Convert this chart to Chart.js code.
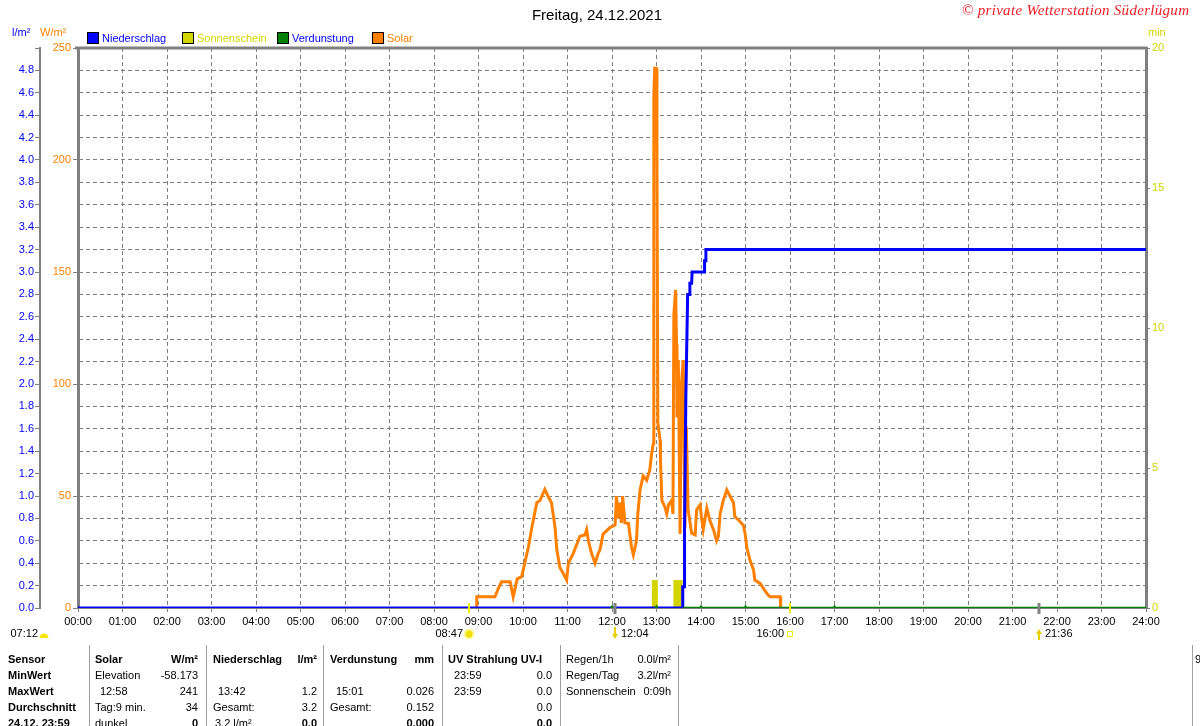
<!DOCTYPE html>
<html>
<head>
<meta charset="utf-8">
<script src="https://cdn.jsdelivr.net/npm/chart.js@4.4.1/dist/chart.umd.min.js"></script>
<style>
html, body { margin: 0; padding: 0; background: #fff; overflow: hidden; }
#wrap { position: relative; width: 1200px; height: 726px; font-family: 'Liberation Sans', Arial, sans-serif; font-size: 11px; color: #000; }
canvas { position: absolute; left: 0; top: 0; }
.t { position: absolute; white-space: nowrap; line-height: 14px; }
.b { font-weight: bold; }
.sep { position: absolute; top: 645px; height: 81px; width: 1px; background: #a0a0a0; }
#title { position: absolute; left: 0; width: 1194px; top: 6px; text-align: center; font-size: 15px; }
#copy { position: absolute; left: 962px; top: 2px; font-family: 'Liberation Serif', serif; font-style: italic; font-size: 15px; letter-spacing: 0.3px; color: #ee1c24; white-space: nowrap; }
</style>
</head>
<body>
<div id="wrap">
  <canvas id="chart" width="1200" height="726"></canvas>
  <div id="title">Freitag, 24.12.2021</div>
  <div id="copy">© private Wetterstation Süderlügum</div>
</div>
<script>
// Niederschlag (cumulative l/m²)
const rainTime  = [0, 13.59, 13.59, 13.62, 13.63, 13.66, 13.70, 13.74, 13.75, 13.79, 13.80, 14.07, 14.08, 14.10, 14.11, 24];
const rainValue = [0, 0, 0.19, 0.19, 0.7, 1.9, 2.8, 2.8, 2.9, 2.9, 3.0, 3.0, 3.1, 3.1, 3.2, 3.2];

// Solar (W/m²)
const solarTime = [8.95, 8.96, 9.37, 9.45, 9.52, 9.71, 9.78, 9.87, 9.97, 10.05, 10.12, 10.2, 10.31, 10.38, 10.49,
  10.56, 10.64, 10.72, 10.76, 10.83, 10.9, 10.98, 11.02, 11.13, 11.24, 11.28, 11.39, 11.43, 11.47, 11.54, 11.62,
  11.69, 11.73, 11.8, 11.96, 12.07, 12.1, 12.14, 12.18, 12.21, 12.24, 12.29, 12.37, 12.44, 12.48, 12.55, 12.58,
  12.63, 12.7, 12.78, 12.85, 12.89, 12.93, 12.94, 12.96, 12.99, 13.01, 13.03, 13.08, 13.09, 13.12, 13.19, 13.23,
  13.27, 13.34, 13.37, 13.39, 13.43, 13.45, 13.46, 13.49, 13.53, 13.56, 13.6, 13.64, 13.67, 13.71, 13.79, 13.87,
  13.9, 13.98, 14.02, 14.05, 14.13, 14.2, 14.28, 14.35, 14.39, 14.43, 14.5, 14.58, 14.65, 14.73, 14.76, 14.88,
  14.95, 14.99, 15.03, 15.1, 15.18, 15.21, 15.33, 15.4, 15.48, 15.55, 15.78, 15.79];
const solarValue = [0, 5, 5, 9, 11.7, 11.7, 5, 13, 14, 21, 27, 36, 47, 48, 53,
  50, 47, 36, 26, 18, 15.6, 12.5, 20, 24.4, 30, 32, 32.6, 35, 30, 24.4, 20,
  24.4, 26, 33, 36, 37, 50, 40, 47, 38, 50, 38, 37.8, 27, 23.7, 30, 42,
  52.7, 59, 57, 61.6, 69, 73.5, 229, 241, 241, 204, 82.6, 75, 66, 48, 45, 42,
  46, 48, 42, 131, 142, 118, 85, 110.7, 33, 100, 110.7, 36, 81, 44, 33.4, 32.6,
  43.7, 46, 39, 35, 44.6, 39, 35, 30, 32, 42, 48, 52.7, 50, 47, 40.8, 38.5,
  37, 33.4, 27, 21.4, 17, 12.5, 11, 8.8, 6.5, 5, 5, 0];

// Sonnenschein (min), blocks
const sunStart = [12.89, 13.38];
const sunEnd   = [13.03, 13.59];
const sunMin   = [1, 1];

// Verdunstung (mm)
const evapTime  = [12, 13, 13.6, 14, 15, 16, 17, 24];
const evapValue = [0, 0, 0, 0, 0, 0, 0, 0];
const evapMark  = [3.5, 3.5, 0, 3.5, 3.5, 3.5, 3.5, 0];

// sun / moon times below the axis
const astroTime = [7.2, 8.783, 12.067, 16.0, 21.6];
const astroText = ['07:12', '08:47', '12:04', '16:00', '21:36'];

const seriesNames = ['Niederschlag', 'Sonnenschein', 'Verdunstung', 'Solar'];
const seriesColors = ['#0000ff', '#d4d400', '#008000', '#ff8000'];
const seriesTextColors = ['#0000ff', '#d4d400', '#0000ff', '#ff8000'];

const pts = (xs, ys) => xs.map((x, i) => ({x, y: ys[i]}));

const sunPts = [];
sunStart.forEach((s, i) => {
  sunPts.push({x: s, y: 0}, {x: s, y: sunMin[i]}, {x: sunEnd[i], y: sunMin[i]}, {x: sunEnd[i], y: 0});
});

const FONT = "'Liberation Sans', Arial, sans-serif";
Chart.defaults.font.family = FONT;
Chart.defaults.font.size = 11;
const GRAY = '#808080';

const decor = {
  id: 'decor',
  afterDraw(chart) {
    const {ctx, chartArea: a, scales: {x}} = chart;
    ctx.save();
    // top border of plot
    ctx.strokeStyle = GRAY;
    ctx.lineWidth = 3;
    ctx.beginPath();
    ctx.moveTo(a.left - 3, a.top);
    ctx.lineTo(a.right + 1, a.top);
    ctx.stroke();

    // legend
    ctx.font = '11px ' + FONT;
    ctx.textBaseline = 'middle';
    seriesNames.forEach((n, i) => {
      const bx = a.left + 9 + i * 95;
      ctx.fillStyle = seriesColors[i];
      ctx.fillRect(bx, 32, 12, 12);
      ctx.strokeStyle = '#000';
      ctx.lineWidth = 1;
      ctx.strokeRect(bx + 0.5, 32.5, 11, 11);
      ctx.fillStyle = seriesTextColors[i];
      ctx.textAlign = 'left';
      ctx.fillText(n, bx + 15, 38.5);
    });

    // unit labels
    ctx.fillStyle = '#0000ff';
    ctx.fillText('l/m²', 12, 33);
    ctx.fillStyle = '#ff8000';
    ctx.fillText('W/m²', 40, 33);
    ctx.fillStyle = '#d4d400';
    ctx.fillText('min', a.right + 2, 33);

    // astro markers
    const yb = a.bottom;
    astroTime.forEach((t, i) => {
      const px = Math.round(x.getPixelForValue(t));
      ctx.fillStyle = '#000';
      if (i === 0) {
        ctx.textAlign = 'right';
        ctx.fillText(astroText[i], 38, yb + 26);
        ctx.fillStyle = '#f5e600';
        ctx.beginPath();
        ctx.arc(44, yb + 30, 4.5, Math.PI, 0);
        ctx.fill();
        return;
      }
      if (i === 1 || i === 3) {
        ctx.strokeStyle = '#f0f000';
        ctx.lineWidth = 2;
        ctx.beginPath();
        ctx.moveTo(px, yb - 5);
        ctx.lineTo(px, yb + 5);
        ctx.stroke();
      } else {
        ctx.strokeStyle = GRAY;
        ctx.lineWidth = 3;
        ctx.beginPath();
        ctx.moveTo(px, yb - 5);
        ctx.lineTo(px, yb + 6);
        ctx.stroke();
      }
      ctx.fillStyle = '#000';
      if (i === 1) {
        ctx.textAlign = 'right';
        ctx.fillText(astroText[i], px - 6, yb + 26);
        ctx.fillStyle = '#fff8a0';
        ctx.beginPath(); ctx.arc(px, yb + 26, 5.5, 0, Math.PI * 2); ctx.fill();
        ctx.fillStyle = '#f0e000';
        ctx.beginPath(); ctx.arc(px, yb + 26, 3.5, 0, Math.PI * 2); ctx.fill();
      } else if (i === 3) {
        ctx.textAlign = 'right';
        ctx.fillText(astroText[i], px - 6, yb + 26);
        ctx.strokeStyle = '#f0f000';
        ctx.lineWidth = 1;
        ctx.strokeRect(px - 2.5, yb + 23.5, 5, 5);
      } else {
        ctx.textAlign = 'left';
        ctx.fillText(astroText[i], px + 6, yb + 26);
        const down = i === 2;
        ctx.fillStyle = '#e8d000';
        ctx.beginPath();
        if (down) {
          ctx.moveTo(px - 3, yb + 26); ctx.lineTo(px + 3, yb + 26); ctx.lineTo(px, yb + 31);
          ctx.fillRect(px - 1, yb + 19, 2, 7);
        } else {
          ctx.moveTo(px - 3, yb + 26); ctx.lineTo(px + 3, yb + 26); ctx.lineTo(px, yb + 21);
          ctx.fillRect(px - 1, yb + 26, 2, 6);
        }
        ctx.fill();
      }
    });
    ctx.restore();
  }
};

new Chart(document.getElementById('chart'), {
  type: 'line',
  data: {
    datasets: [
      {
        label: seriesNames[0], data: pts(rainTime, rainValue), yAxisID: 'yRain',
        borderColor: seriesColors[0], borderWidth: 3, pointRadius: 0, order: 1
      },
      {
        label: seriesNames[1], data: sunPts, yAxisID: 'ySun',
        borderColor: seriesColors[1], backgroundColor: seriesColors[1], borderWidth: 0,
        fill: 'origin', pointRadius: 0, order: 3
      },
      {
        label: seriesNames[2], data: pts(evapTime, evapValue), yAxisID: 'yRain',
        borderColor: seriesColors[2], backgroundColor: seriesColors[2], borderWidth: 2.5,
        pointStyle: 'triangle', pointRadius: evapMark, pointBorderWidth: 0, order: 0,
        segment: {borderColor: c => c.p1.parsed.x <= 13.6 ? 'rgba(0,0,0,0)' : seriesColors[2]}
      },
      {
        label: seriesNames[3], data: pts(solarTime, solarValue), yAxisID: 'ySolar',
        borderColor: seriesColors[3], borderWidth: 3, pointRadius: 0, order: 4
      }
    ]
  },
  options: {
    responsive: false,
    animation: false,
    events: [],
    layout: {padding: {top: 48, bottom: 88, left: 0, right: 0}},
    plugins: {legend: {display: false}, tooltip: {enabled: false}},
    scales: {
      x: {
        type: 'linear', min: 0, max: 24,
        afterFit: s => { s.height = 30; },
        ticks: {
          stepSize: 1, autoSkip: false, maxRotation: 0, padding: 3, color: '#000',
          callback: v => String(v).padStart(2, '0') + ':00'
        },
        grid: {color: GRAY, tickLength: 4, tickColor: GRAY, tickBorderDash: []},
        border: {color: GRAY, width: 2, dash: [4, 3]}
      },
      yRain: {
        position: 'left', weight: 2, min: 0, max: 5,
        afterFit: s => { s.width = 40; },
        ticks: {stepSize: 0.2, padding: 1, color: '#0000ff', callback: v => v > 4.9 ? '' : v.toFixed(1)},
        grid: {color: GRAY, tickLength: 5, tickColor: GRAY, tickBorderDash: []},
        border: {color: GRAY, width: 2, dash: [4, 3]}
      },
      ySolar: {
        position: 'left', weight: 1, min: 0, max: 250,
        afterFit: s => { s.width = 38; },
        ticks: {stepSize: 50, padding: 2, color: '#ff8000'},
        grid: {drawOnChartArea: false, tickLength: 5, tickColor: GRAY},
        border: {color: GRAY, width: 3}
      },
      ySun: {
        position: 'right', min: 0, max: 20,
        afterFit: s => { s.width = 54; },
        ticks: {stepSize: 5, padding: 2, color: '#d4d400'},
        grid: {drawOnChartArea: false, tickLength: 4, tickColor: GRAY},
        border: {color: GRAY, width: 3}
      }
    }
  },
  plugins: [decor]
});

// statistics table below the chart
const tableCells = [
  // [x, row, text, align, bold]
  [8, 0, 'Sensor', 'l', 1], [8, 1, 'MinWert', 'l', 1], [8, 2, 'MaxWert', 'l', 1],
  [8, 3, 'Durchschnitt', 'l', 1], [8, 4, '24.12. 23:59', 'l', 1],
  [95, 0, 'Solar', 'l', 1], [198, 0, 'W/m²', 'r', 1],
  [95, 1, 'Elevation', 'l', 0], [198, 1, '-58.173', 'r', 0],
  [100, 2, '12:58', 'l', 0], [198, 2, '241', 'r', 0],
  [95, 3, 'Tag:9 min.', 'l', 0], [198, 3, '34', 'r', 0],
  [95, 4, 'dunkel', 'l', 0], [198, 4, '0', 'r', 1],
  [213, 0, 'Niederschlag', 'l', 1], [317, 0, 'l/m²', 'r', 1],
  [218, 2, '13:42', 'l', 0], [317, 2, '1.2', 'r', 0],
  [213, 3, 'Gesamt:', 'l', 0], [317, 3, '3.2', 'r', 0],
  [215, 4, '3.2 l/m²', 'l', 0], [317, 4, '0.0', 'r', 1],
  [330, 0, 'Verdunstung', 'l', 1], [434, 0, 'mm', 'r', 1],
  [336, 2, '15:01', 'l', 0], [434, 2, '0.026', 'r', 0],
  [330, 3, 'Gesamt:', 'l', 0], [434, 3, '0.152', 'r', 0],
  [434, 4, '0.000', 'r', 1],
  [448, 0, 'UV Strahlung UV-I', 'l', 1],
  [454, 1, '23:59', 'l', 0], [552, 1, '0.0', 'r', 0],
  [454, 2, '23:59', 'l', 0], [552, 2, '0.0', 'r', 0],
  [552, 3, '0.0', 'r', 0], [552, 4, '0.0', 'r', 1],
  [566, 0, 'Regen/1h', 'l', 0], [671, 0, '0.0l/m²', 'r', 0],
  [566, 1, 'Regen/Tag', 'l', 0], [671, 1, '3.2l/m²', 'r', 0],
  [566, 2, 'Sonnenschein', 'l', 0], [671, 2, '0:09h', 'r', 0],
  [1195, 0, '9', 'l', 0]
];
const tableSeps = [89, 206, 323, 442, 560, 678, 1192];
const wrap = document.getElementById('wrap');
tableCells.forEach(([x, r, txt, al, b]) => {
  const d = document.createElement('div');
  d.className = 't' + (b ? ' b' : '');
  d.textContent = txt;
  d.style.top = (652 + r * 16) + 'px';
  if (al === 'r') d.style.right = (1200 - x) + 'px'; else d.style.left = x + 'px';
  wrap.appendChild(d);
});
tableSeps.forEach(x => {
  const d = document.createElement('div');
  d.className = 'sep';
  d.style.left = x + 'px';
  wrap.appendChild(d);
});
</script>
</body>
</html>
